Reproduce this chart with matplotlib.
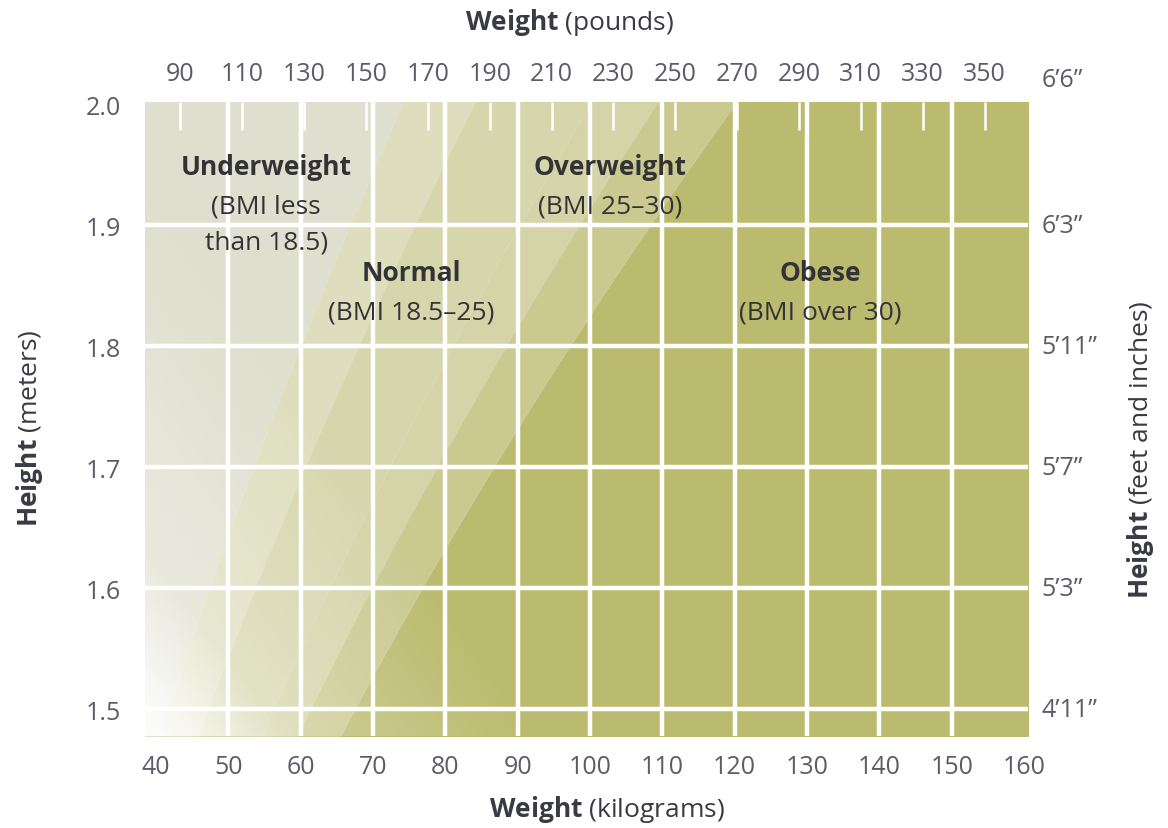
import numpy as np
import matplotlib
matplotlib.use("Agg")
import matplotlib.pyplot as plt

plt.rcParams['font.family'] = ['Open Sans', 'DejaVu Sans']
plt.rcParams['mathtext.fontset'] = 'custom'
plt.rcParams['mathtext.rm'] = 'Open Sans'
plt.rcParams['mathtext.bf'] = 'Open Sans:bold'

# ---- data ----
kg_ticks = [40, 50, 60, 70, 80, 90, 100, 110, 120, 130, 140, 150, 160]
kg_grid = [50, 60, 70, 80, 90, 100, 110, 120, 130, 140, 150]
height_ticks = [1.5, 1.6, 1.7, 1.8, 1.9, 2.0]
height_grid = [1.5, 1.6, 1.7, 1.8, 1.9]
lb_ticks = [90, 110, 130, 150, 170, 190, 210, 230, 250, 270, 290, 310, 330, 350]
ft_positions = [1.5, 1.6, 1.7, 1.8, 1.9, 2.021]
ft_labels = ["4\u201911\u201d", "5\u20193\u201d", "5\u20197\u201d", "5\u201911\u201d",
             "6\u20193\u201d", "6\u20196\u201d"]
bmi_bounds = [18.5, 25, 30]
region_colors = ["#dfdfcf", "#d6d6ad", "#c9c990", "#bbbb6f"]
region_titles = ["Underweight", "Normal", "Overweight", "Obese"]
region_notes = [["(BMI less", "than 18.5)"], ["(BMI 18.5\u201325)"], ["(BMI 25\u201330)"],
                ["(BMI over 30)"]]
label_pos_kg = [55.25, 75.3, 102.8, 131.8]
label_pos_h = [1.9488, 1.8612, 1.9488, 1.8612]

xlim = (38.5, 160.55)
ylim = (1.4777, 2.0024)
# pounds scale as printed on the chart's top axis
lb_lim = (78.54, 364.04)

fig = plt.figure(figsize=(11.68, 8.29), dpi=100)
ax = fig.add_axes([145/1168, 1-737/829, (1028-145)/1168, (737-102.7)/829])
ax.set_xlim(*xlim)
ax.set_ylim(*ylim)

h = np.linspace(ylim[0] - 0.01, ylim[1] + 0.01, 300)
bounds = [np.full_like(h, xlim[0] - 5)] + [b * h**2 for b in bmi_bounds] + [np.full_like(h, xlim[1] + 5)]
for i in range(4):
    ax.fill_betweenx(h, bounds[i], bounds[i+1], color=region_colors[i], lw=0, zorder=1)

# lighter sheen bands on the left part of normal and overweight zones
sheen = [(18.5, 21.0, 0.22), (25, 27.3, 0.22)]
for lo, hi, a in sheen:
    ax.fill_betweenx(h, lo * h**2, hi * h**2, color="white", alpha=a, lw=0, zorder=1.5)

# white fade toward the bottom-left corner
nx, ny = 400, 300
u = np.linspace(0, 1, nx)[None, :]
v = np.linspace(0, 1, ny)[:, None]
a1 = np.clip(1 - (u / 0.16 + v / 0.28), 0, 1) * 0.9
a2 = np.clip(1 - (u / 0.45 + v / 0.9), 0, 1) * 0.45
alpha = 1 - (1 - a1) * (1 - a2)
img = np.ones((ny, nx, 4))
img[..., 3] = alpha
ax.imshow(img, extent=[xlim[0], xlim[1], ylim[0], ylim[1]], origin='lower',
          aspect='auto', zorder=2, interpolation='bilinear')

for x in kg_grid:
    ax.axvline(x, color='white', lw=3.2, zorder=3)
for y in height_grid:
    ax.axhline(y, color='white', lw=3.2, zorder=3)

for s in ax.spines.values():
    s.set_visible(False)

tick_color = "#5c5c68"
ax.set_xticks(kg_ticks)
ax.set_xticklabels([str(k) for k in kg_ticks])
ax.set_yticks(height_ticks)
ax.set_yticklabels([f"{v:.1f}" for v in height_ticks])
ax.tick_params(axis='x', length=0, pad=13, labelsize=18, labelcolor=tick_color)
ax.tick_params(axis='y', length=0, pad=17, labelsize=18, labelcolor=tick_color)

# top pounds axis
ax2 = ax.twiny()
ax2.set_xlim(*lb_lim)
ax2.set_xticks(lb_ticks)
ax2.set_xticklabels([str(v) for v in lb_ticks])
ax2.tick_params(axis='x', direction='in', length=20, width=1.8, color='white',
                pad=11, labelsize=18, labelcolor=tick_color)
for s in ax2.spines.values():
    s.set_visible(False)

# right feet/inches labels
for y, lab in zip(ft_positions, ft_labels):
    ax.text(1.0155, y, lab, transform=ax.get_yaxis_transform(), ha='left', va='center',
            fontsize=18, color=tick_color, clip_on=False)

# region labels
txt_color = "#333336"
for xk, yh, t, notes in zip(label_pos_kg, label_pos_h, region_titles, region_notes):
    ax.text(xk, yh, t, ha='center', va='center', fontsize=19, fontweight='bold',
            color=txt_color, zorder=5)
    for k, line in enumerate(notes):
        ax.text(xk, yh - 0.0325 - k * 0.0298, line, ha='center', va='center', fontsize=19,
                color=txt_color, zorder=5)

lab_color = "#3a3a44"
fig.text(570/1168, 1-22/829, r"$\mathbf{Weight}$ (pounds)", ha='center', va='center',
         fontsize=19, color=lab_color)
fig.text(607/1168, 1-810/829, r"$\mathbf{Weight}$ (kilograms)", ha='center', va='center',
         fontsize=19, color=lab_color)
fig.text(30/1168, 1-428/829, r"$\mathbf{Height}$ (meters)", ha='center', va='center',
         rotation=90, fontsize=19, color=lab_color)
fig.text(1140/1168, 1-450/829, r"$\mathbf{Height}$ (feet and inches)", ha='center',
         va='center', rotation=90, fontsize=19, color=lab_color)

fig.savefig("out.png", dpi=100, facecolor='white')
